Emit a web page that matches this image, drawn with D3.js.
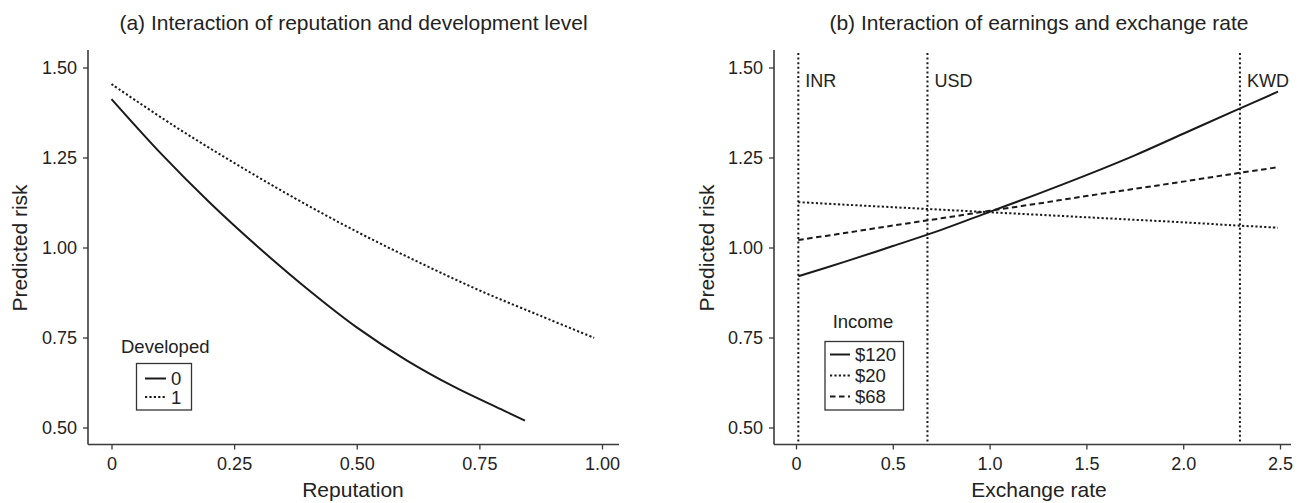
<!DOCTYPE html>
<html><head><meta charset="utf-8">
<script src="https://cdn.jsdelivr.net/npm/d3@7"></script>
<style>
html,body{margin:0;padding:0;background:#fff;}
svg{display:block;font-family:"Liberation Sans",Arial,Helvetica,sans-serif;}
</style></head>
<body>
<svg id="c" width="1304" height="503"></svg>
<script>
// ---------- Data ----------
const titleA = "(a) Interaction of reputation and development level";
const titleB = "(b) Interaction of earnings and exchange rate";
const yTicks = [0.5, 0.75, 1.0, 1.25, 1.5];
const yTickLabels = ["0.50", "0.75", "1.00", "1.25", "1.50"];
const xTicksA = [0, 0.25, 0.5, 0.75, 1.0];
const xTickLabelsA = ["0", "0.25", "0.50", "0.75", "1.00"];
const xTicksB = [0, 0.5, 1.0, 1.5, 2.0, 2.5];
const xTickLabelsB = ["0", "0.5", "1.0", "1.5", "2.0", "2.5"];

// Panel (a): Reputation vs predicted risk, by Developed
const repDev0X = [0, 0.1, 0.2, 0.3, 0.4, 0.5, 0.6, 0.7, 0.8, 0.843];
const repDev0Y = [1.412, 1.262, 1.125, 1.000, 0.884, 0.778, 0.688, 0.612, 0.547, 0.519];
const repDev1X = [0, 0.125, 0.25, 0.375, 0.5, 0.625, 0.75, 0.875, 0.984];
const repDev1Y = [1.454, 1.340, 1.235, 1.136, 1.044, 0.960, 0.881, 0.810, 0.749];
const legendA = ["0", "1"];

// Panel (b): Exchange rate vs predicted risk, by Income
const exX = [0.012, 0.25, 0.5, 0.75, 1.0, 1.25, 1.5, 1.75, 2.0, 2.25, 2.49];
const inc120 = [0.920, 0.960, 1.004, 1.049, 1.099, 1.149, 1.201, 1.256, 1.316, 1.376, 1.433];
const inc20  = [1.126, 1.119, 1.112, 1.105, 1.098, 1.091, 1.084, 1.077, 1.070, 1.062, 1.055];
const inc68  = [1.021, 1.040, 1.061, 1.081, 1.102, 1.122, 1.143, 1.163, 1.183, 1.204, 1.223];
const legendB = ["$120", "$20", "$68"];
const currencies = ["INR", "USD", "KWD"];
const currencyRates = [0.012, 0.679, 2.293];

// ---------- Drawing ----------
const svg = d3.select("#c");
const ink = "#1a1a1a";
const axisCol = "#3a3a3a";
const FS = 18;      // tick labels
const FT = 21;      // titles & axis titles
const FL = 18.5;    // legend

const y = d3.scaleLinear().domain([0.5, 1.5]).range([427.5, 67.5]);

function frame(g, x0, x1, yTop, yBot) {
  g.append("line").attr("x1", x0).attr("x2", x0).attr("y1", yTop).attr("y2", yBot)
    .attr("stroke", axisCol).attr("stroke-width", 1.6);
  g.append("line").attr("x1", x0).attr("x2", x1).attr("y1", yBot).attr("y2", yBot)
    .attr("stroke", axisCol).attr("stroke-width", 1.6);
}

function axes(g, x, xt, xtl, axisLeft, yBot) {
  const ax = g.append("g").attr("transform", `translate(0,${yBot})`)
    .call(d3.axisBottom(x).tickValues(xt).tickFormat((d, i) => xtl[i]).tickSize(5).tickPadding(8));
  ax.select(".domain").remove();
  ax.selectAll("line").attr("stroke", axisCol).attr("stroke-width", 1.3);
  ax.selectAll("text").attr("font-size", FS).attr("fill", "#222").attr("font-family", "Liberation Sans, Arial, sans-serif");
  const ay = g.append("g").attr("transform", `translate(${axisLeft},0)`)
    .call(d3.axisLeft(y).tickValues(yTicks).tickFormat((d, i) => yTickLabels[i]).tickSize(5).tickPadding(6));
  ay.select(".domain").remove();
  ay.selectAll("line").attr("stroke", axisCol).attr("stroke-width", 1.3);
  ay.selectAll("text").attr("font-size", FS).attr("fill", "#222").attr("font-family", "Liberation Sans, Arial, sans-serif");
}

const styles = {
  solid: {w: 2, d: null},
  dotted: {w: 2, d: "2.2,2.2"},
  dashed: {w: 2, d: "5.5,3.5"},
  vdot: {w: 2, d: "2,2.6"}
};

function path(g, xs, ys, x, st) {
  const line = d3.line().x(d => x(d[0])).y(d => y(d[1])).curve(d3.curveCatmullRom.alpha(0.5));
  const p = g.append("path").datum(xs.map((v, i) => [v, ys[i]]))
    .attr("d", line).attr("fill", "none").attr("stroke", ink).attr("stroke-width", st.w);
  if (st.d) p.attr("stroke-dasharray", st.d);
}

// ----- Panel A -----
const gA = svg.append("g");
const xA = d3.scaleLinear().domain([0, 1]).range([111.5, 602]);
frame(gA, 88, 619, 50, 444.5);
axes(gA, xA, xTicksA, xTickLabelsA, 88, 444.5);
path(gA, repDev0X, repDev0Y, xA, styles.solid);
path(gA, repDev1X, repDev1Y, xA, styles.dotted);

gA.append("text").attr("x", 353.5).attr("y", 30).attr("text-anchor", "middle")
  .attr("font-size", FT).attr("fill", "#222").text(titleA);
gA.append("text").attr("x", 353).attr("y", 497).attr("text-anchor", "middle")
  .attr("font-size", FT).attr("fill", "#222").text("Reputation");
gA.append("text").attr("transform", "translate(27,248) rotate(-90)").attr("text-anchor", "middle")
  .attr("font-size", FT).attr("fill", "#222").text("Predicted risk");

// Legend A
gA.append("text").attr("x", 121).attr("y", 353).attr("font-size", FL).attr("fill", "#222").text("Developed");
gA.append("rect").attr("x", 136.5).attr("y", 363.5).attr("width", 55).attr("height", 46.5)
  .attr("fill", "none").attr("stroke", "#333").attr("stroke-width", 1.3);
const legStA = [styles.solid, styles.dotted];
legendA.forEach((lab, i) => {
  const yy = 378.5 + i * 18.5;
  const l = gA.append("line").attr("x1", 145).attr("x2", 166).attr("y1", yy).attr("y2", yy)
    .attr("stroke", ink).attr("stroke-width", legStA[i].w);
  if (legStA[i].d) l.attr("stroke-dasharray", legStA[i].d);
  gA.append("text").attr("x", 171).attr("y", yy + 6.5).attr("font-size", FL).attr("fill", "#222").text(lab);
});

// ----- Panel B -----
const gB = svg.append("g");
const xB = d3.scaleLinear().domain([0, 2.5]).range([796, 1280]);
frame(gB, 774, 1291, 50, 444.5);
axes(gB, xB, xTicksB, xTickLabelsB, 774, 444.5);

currencyRates.forEach((r, i) => {
  gB.append("line").attr("x1", xB(r)).attr("x2", xB(r)).attr("y1", 53).attr("y2", 444)
    .attr("stroke", ink).attr("stroke-width", styles.vdot.w).attr("stroke-dasharray", styles.vdot.d);
  gB.append("text").attr("x", xB(r) + 7).attr("y", 87).attr("font-size", FS).attr("fill", "#222").text(currencies[i]);
});

path(gB, exX, inc120, xB, styles.solid);
path(gB, exX, inc20, xB, styles.dotted);
path(gB, exX, inc68, xB, styles.dashed);

gB.append("text").attr("x", 1039).attr("y", 30).attr("text-anchor", "middle")
  .attr("font-size", FT).attr("fill", "#222").text(titleB);
gB.append("text").attr("x", 1039).attr("y", 497).attr("text-anchor", "middle")
  .attr("font-size", FT).attr("fill", "#222").text("Exchange rate");
gB.append("text").attr("transform", "translate(714,248) rotate(-90)").attr("text-anchor", "middle")
  .attr("font-size", FT).attr("fill", "#222").text("Predicted risk");

// Legend B
gB.append("text").attr("x", 863).attr("y", 328).attr("text-anchor", "middle").attr("font-size", FL).attr("fill", "#222").text("Income");
gB.append("rect").attr("x", 825).attr("y", 341.5).attr("width", 78.5).attr("height", 68.5)
  .attr("fill", "none").attr("stroke", "#333").attr("stroke-width", 1.3);
const legStB = [styles.solid, styles.dotted, styles.dashed];
legendB.forEach((lab, i) => {
  const yy = 354.5 + i * 21;
  const l = gB.append("line").attr("x1", 830).attr("x2", 850).attr("y1", yy).attr("y2", yy)
    .attr("stroke", ink).attr("stroke-width", legStB[i].w);
  if (legStB[i].d) l.attr("stroke-dasharray", legStB[i].d);
  gB.append("text").attr("x", 855).attr("y", yy + 6.5).attr("font-size", FL).attr("fill", "#222").text(lab);
});
</script>
</body></html>
